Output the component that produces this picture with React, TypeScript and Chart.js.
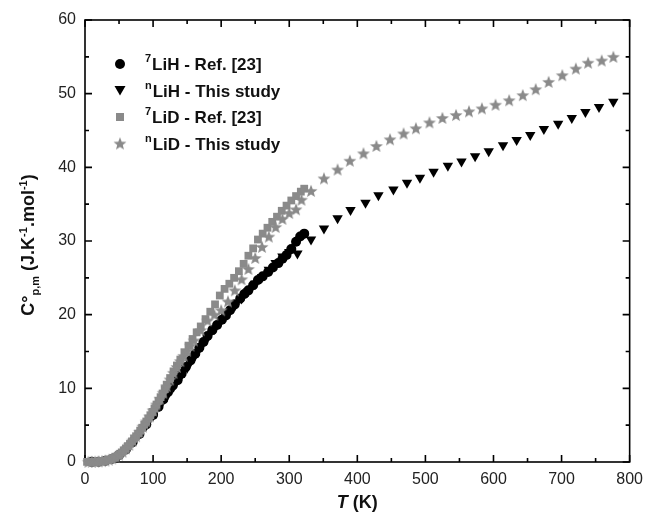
import React, { useEffect, useRef } from "react";
import { Chart, registerables } from "chart.js";
Chart.register(...registerables);

// ---- Data (T in K, Cp in J/K/mol) ----
const liH7T = [10, 20, 30, 40, 50, 60, 70, 80, 90, 100, 108, 115, 122, 129, 136, 142, 148, 155, 162, 168, 174, 180, 187, 194, 201, 207, 213, 220, 228, 234, 240, 247, 254, 261, 269, 276, 284, 290, 296, 303, 310, 316, 322];
const liH7C = [0.02, 0.05, 0.18, 0.45, 0.95, 1.7, 2.7, 3.8, 5.1, 6.4, 7.5, 8.5, 9.5, 10.4, 11.1, 12.0, 12.9, 13.8, 14.7, 15.5, 16.3, 17.1, 17.9, 18.6, 19.3, 19.9, 20.6, 21.4, 22.2, 22.8, 23.3, 24.0, 24.7, 25.2, 25.8, 26.4, 27.0, 27.6, 28.1, 28.9, 29.9, 30.6, 31.0];

const liHnT = [90, 100, 110, 120, 130, 140, 150, 160, 170, 180, 190, 200, 210, 220, 230, 240, 250, 260, 270, 280, 290, 300, 312, 332, 351, 371, 390, 412, 431, 453, 473, 492, 512, 533, 553, 573, 593, 614, 634, 654, 674, 695, 715, 735, 755, 776];
const liHnC = [5.0, 6.3, 7.6, 8.9, 10.2, 11.5, 12.8, 14.2, 15.6, 16.9, 18.1, 19.2, 20.2, 21.2, 22.2, 23.2, 24.2, 25.1, 26.1, 27.0, 27.9, 28.5, 28.3, 30.2, 31.7, 33.1, 34.2, 35.2, 36.2, 37.0, 37.9, 38.6, 39.4, 40.2, 40.8, 41.5, 42.2, 43.0, 43.7, 44.4, 45.2, 45.9, 46.7, 47.5, 48.2, 48.9];

const liD7T = [3, 6, 9, 12, 15, 18, 21, 24, 27, 30, 33, 36, 39, 42, 45, 48, 51, 54, 57, 60, 63, 66, 69, 72, 75, 78, 81, 84, 87, 90, 93, 96, 99, 102, 105, 108, 111, 114, 117, 120, 125, 130, 135, 140, 146, 152, 158, 164, 170, 177, 184, 191, 198, 205, 212, 219, 226, 233, 240, 247, 254, 261, 268, 275, 282, 289, 296, 303, 310, 317, 322];
const liD7C = [0.02, 0.02, 0.03, 0.04, 0.05, 0.06, 0.08, 0.1, 0.14, 0.2, 0.26, 0.34, 0.42, 0.55, 0.7, 0.85, 1.05, 1.3, 1.55, 1.85, 2.15, 2.45, 2.8, 3.15, 3.5, 3.85, 4.25, 4.65, 5.05, 5.5, 5.9, 6.35, 6.8, 7.25, 7.8, 8.3, 8.8, 9.3, 9.9, 10.5, 11.4, 12.3, 13.1, 13.9, 14.9, 15.8, 16.7, 17.6, 18.4, 19.4, 20.4, 21.4, 22.6, 23.5, 24.2, 25.0, 25.9, 26.9, 28.0, 29.0, 30.2, 31.0, 31.8, 32.6, 33.3, 34.1, 34.8, 35.5, 36.1, 36.7, 37.1];

const liDnT = [5, 10, 15, 20, 25, 30, 35, 40, 45, 50, 55, 60, 65, 70, 75, 80, 85, 90, 95, 100, 105, 110, 115, 120, 125, 130, 135, 140, 145, 150, 155, 160, 170, 180, 190, 200, 210, 220, 230, 240, 250, 260, 270, 280, 290, 300, 310, 318, 332, 351, 371, 389, 409, 428, 448, 468, 486, 506, 525, 545, 564, 583, 603, 623, 643, 662, 681, 701, 721, 739, 759, 776];
const liDnC = [0.02, 0.03, 0.05, 0.08, 0.12, 0.2, 0.32, 0.48, 0.72, 1.0, 1.4, 1.85, 2.35, 2.9, 3.5, 4.1, 4.8, 5.5, 6.2, 7.0, 7.8, 8.6, 9.4, 10.3, 11.2, 12.1, 12.9, 13.7, 14.4, 15.1, 15.8, 16.5, 17.9, 19.2, 20.0, 20.6, 21.8, 23.3, 24.8, 26.2, 27.7, 29.2, 30.6, 31.9, 33.0, 33.8, 34.3, 35.6, 36.8, 38.5, 39.7, 40.9, 41.9, 42.9, 43.8, 44.6, 45.3, 46.1, 46.7, 47.1, 47.6, 48.0, 48.5, 49.1, 49.8, 50.6, 51.6, 52.5, 53.4, 54.2, 54.5, 55.0];

const legendLabels = ["LiH - Ref. [23]", "LiH - This study", "LiD - Ref. [23]", "LiD - This study"];
const legendSups = ["7", "n", "7", "n"];

const BLACK = "#000000";
const GRAY = "#8a8a8a";
const FONT = "'Liberation Sans', Arial, Helvetica, sans-serif";

function pts(t: number[], c: number[]) {
  return t.map((v, i) => ({ x: v, y: c[i] }));
}

function makeStar(color: string, outer: number, inner: number) {
  const s = Math.ceil(outer * 2 + 2);
  const cv = document.createElement("canvas");
  cv.width = s;
  cv.height = s;
  const g = cv.getContext("2d")!;
  const c = s / 2;
  g.beginPath();
  for (let i = 0; i < 10; i++) {
    const r = i % 2 === 0 ? outer : inner;
    const a = -Math.PI / 2 + (i * Math.PI) / 5;
    const px = c + r * Math.cos(a);
    const py = c + 0.5 + r * Math.sin(a);
    if (i === 0) g.moveTo(px, py);
    else g.lineTo(px, py);
  }
  g.closePath();
  g.fillStyle = color;
  g.fill();
  return cv;
}

export default function App() {
  const ref = useRef<HTMLCanvasElement>(null);
  useEffect(() => {
    const canvas = ref.current!;
    const star = makeStar(GRAY, 6.8, 2.9);

    const framePlugin = {
      id: "frame",
      beforeDatasetsDraw(chart: any) {
        const { ctx, chartArea, scales } = chart;
        const { left, right, top, bottom } = chartArea;
        const xs = scales.x;
        const ys = scales.y;
        ctx.save();
        ctx.strokeStyle = "#000";
        ctx.lineWidth = 1.6;
        ctx.strokeRect(left, top, right - left, bottom - top);
        ctx.beginPath();
        for (let t = xs.min; t <= xs.max; t += 50) {
          const px = xs.getPixelForValue(t);
          const len = t % 100 === 0 ? 7 : 4;
          ctx.moveTo(px, bottom);
          ctx.lineTo(px, bottom - len);
          ctx.moveTo(px, top);
          ctx.lineTo(px, top + len);
        }
        for (let v = ys.min; v <= ys.max; v += 5) {
          const py = ys.getPixelForValue(v);
          const len = v % 10 === 0 ? 7 : 4;
          ctx.moveTo(left, py);
          ctx.lineTo(left + len, py);
          ctx.moveTo(right, py);
          ctx.lineTo(right - len, py);
        }
        ctx.stroke();
        ctx.restore();
      },
      afterDraw(chart: any) {
        const { ctx, chartArea } = chart;
        const { left, right, top, bottom } = chartArea;
        ctx.save();
        ctx.fillStyle = "#111";
        ctx.textBaseline = "alphabetic";
        // Legend
        const mx = left + 35;
        const rowY0 = top + 44;
        const rowH = 26.5;
        for (let i = 0; i < legendLabels.length; i++) {
          const cy = rowY0 + i * rowH;
          ctx.beginPath();
          if (i === 0) {
            ctx.fillStyle = BLACK;
            ctx.arc(mx, cy, 5, 0, Math.PI * 2);
            ctx.fill();
          } else if (i === 1) {
            ctx.fillStyle = BLACK;
            ctx.moveTo(mx - 5.5, cy - 4.5);
            ctx.lineTo(mx + 5.5, cy - 4.5);
            ctx.lineTo(mx, cy + 5);
            ctx.closePath();
            ctx.fill();
          } else if (i === 2) {
            ctx.fillStyle = GRAY;
            ctx.fillRect(mx - 4, cy - 4, 8, 8);
          } else {
            ctx.drawImage(star, mx - star.width / 2, cy - star.height / 2);
          }
          ctx.fillStyle = "#111";
          ctx.textAlign = "left";
          ctx.font = `bold 11px ${FONT}`;
          const sx = mx + 25;
          ctx.fillText(legendSups[i], sx, cy - 2);
          const sw = ctx.measureText(legendSups[i]).width;
          ctx.font = `bold 17px ${FONT}`;
          ctx.fillText(legendLabels[i], sx + sw + 1, cy + 6);
        }
        // X title
        ctx.font = `bold italic 18px ${FONT}`;
        const tW = ctx.measureText("T").width;
        ctx.font = `bold 18px ${FONT}`;
        const kW = ctx.measureText(" (K)").width;
        const cx = (left + right) / 2;
        const x0 = cx - (tW + kW) / 2;
        const ty = bottom + 46;
        ctx.font = `bold italic 18px ${FONT}`;
        ctx.fillText("T", x0, ty);
        ctx.font = `bold 18px ${FONT}`;
        ctx.fillText(" (K)", x0 + tW, ty);
        // Y title (rotated)
        const parts: [string, number, number][] = [
          ["C°", 18, 0],
          ["p,m", 11, 5],
          [" (J.K", 18, 0],
          ["-1", 11, -7],
          [".mol", 18, 0],
          ["-1", 11, -7],
          [")", 18, 0],
        ];
        let total = 0;
        const widths: number[] = [];
        for (const [s, sz] of parts) {
          ctx.font = `bold ${sz}px ${FONT}`;
          const w = ctx.measureText(s).width;
          widths.push(w);
          total += w;
        }
        ctx.translate(34, (top + bottom) / 2 + 4);
        ctx.rotate(-Math.PI / 2);
        let px = -total / 2;
        parts.forEach(([s, sz, dy], i) => {
          ctx.font = `bold ${sz}px ${FONT}`;
          ctx.fillText(s, px, dy);
          px += widths[i];
        });
        ctx.restore();
      },
    };

    const chart = new Chart(canvas, {
      type: "scatter",
      data: {
        datasets: [
          {
            label: "7LiH - Ref. [23]",
            data: pts(liH7T, liH7C),
            pointStyle: "circle",
            pointRadius: 5,
            backgroundColor: BLACK,
            borderWidth: 0,
            order: 4,
          },
          {
            label: "nLiH - This study",
            data: pts(liHnT, liHnC),
            pointStyle: "triangle",
            pointRotation: 180,
            pointRadius: 6,
            backgroundColor: BLACK,
            borderWidth: 0,
            order: 3,
          },
          {
            label: "7LiD - Ref. [23]",
            data: pts(liD7T, liD7C),
            pointStyle: "rect",
            pointRadius: 5.5,
            backgroundColor: GRAY,
            borderWidth: 0,
            order: 2,
          },
          {
            label: "nLiD - This study",
            data: pts(liDnT, liDnC),
            pointStyle: star as any,
            pointRadius: 6,
            backgroundColor: GRAY,
            borderWidth: 0,
            order: 1,
          },
        ] as any,
      },
      options: {
        responsive: false,
        animation: false,
        events: [],
        clip: false as any,
        layout: { padding: { top: 20, right: 16, left: 0, bottom: 0 } },
        plugins: { legend: { display: false }, tooltip: { enabled: false } },
        scales: {
          x: {
            type: "linear",
            min: 0,
            max: 800,
            grid: { display: false, drawTicks: false },
            border: { display: false },
            ticks: { stepSize: 100, padding: 8, color: "#222", font: { family: FONT, size: 16 } },
            afterFit: (s: any) => {
              s.height = 57;
            },
          },
          y: {
            type: "linear",
            min: 0,
            max: 60,
            grid: { display: false, drawTicks: false },
            border: { display: false },
            ticks: { stepSize: 10, padding: 9, color: "#222", font: { family: FONT, size: 16 } },
            afterFit: (s: any) => {
              s.width = 85;
            },
          },
        },
      },
      plugins: [framePlugin],
    });
    return () => chart.destroy();
  }, []);
  return (
    <div style={{ position: "fixed", left: 0, top: 0, width: 651, height: 519, background: "#fff" }}>
      <canvas ref={ref} width={651} height={519} style={{ display: "block" }} />
    </div>
  );
}
